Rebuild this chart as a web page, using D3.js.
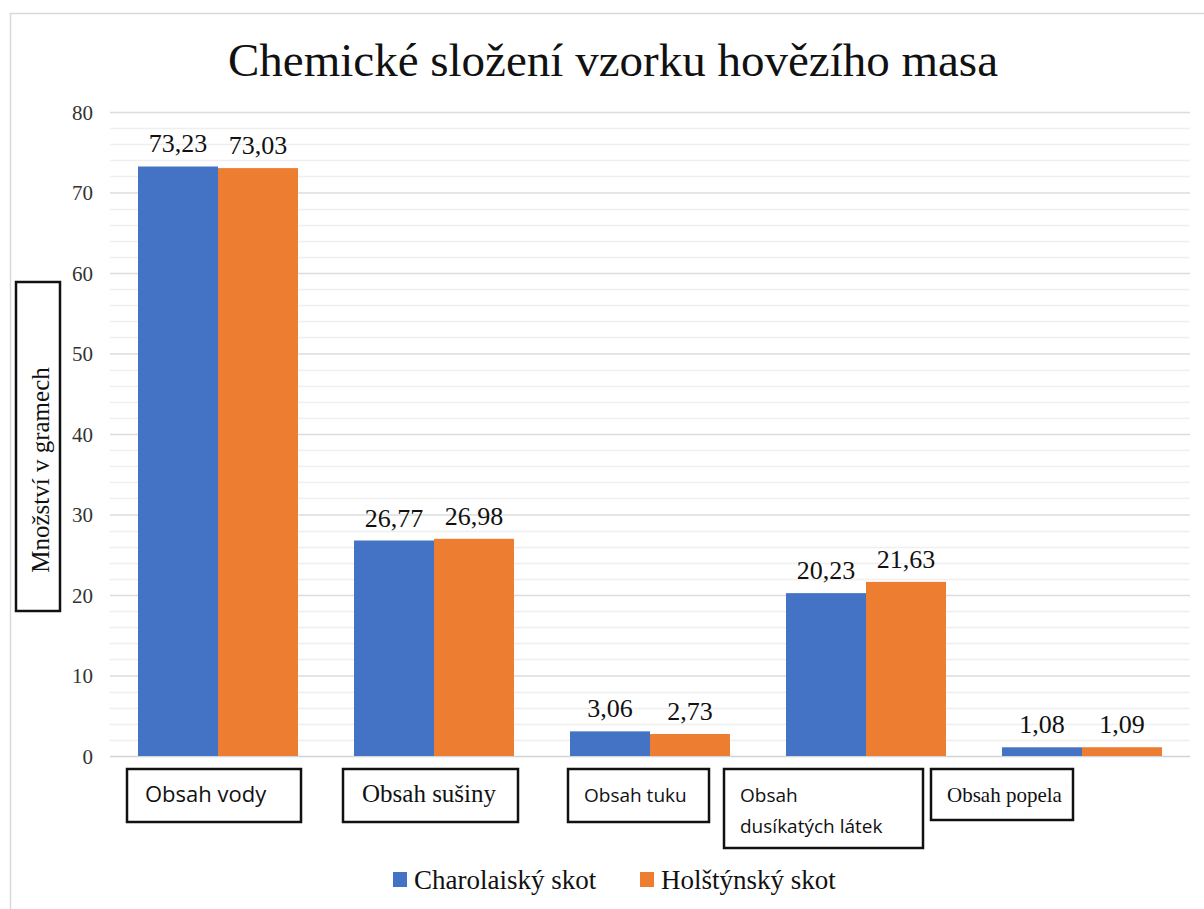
<!DOCTYPE html>
<html><head><meta charset="utf-8">
<script src="https://cdn.jsdelivr.net/npm/d3@7"></script>
<style>body{margin:0;background:#fff}</style>
</head><body>
<svg id="c" width="1204" height="909"></svg>
<script>
const title = "Chemické složení vzorku hovězího masa";
const categories = ["Obsah vody","Obsah sušiny","Obsah tuku","Obsah dusíkatých látek","Obsah popela"];
const categoryLines = [["Obsah vody"],["Obsah sušiny"],["Obsah tuku"],["Obsah","dusíkatých látek"],["Obsah popela"]];
const seriesNames = ["Charolaiský skot","Holštýnský skot"];
const charolais = [73.23, 26.77, 3.06, 20.23, 1.08];
const holstein = [73.03, 26.98, 2.73, 21.63, 1.09];
const labelsCh = ["73,23","26,77","3,06","20,23","1,08"];
const labelsHo = ["73,03","26,98","2,73","21,63","1,09"];
const yTicks = [0,10,20,30,40,50,60,70,80];
const yLabel = "Množství v gramech";
const colors = ["#4472C4","#ED7D31"];

const svg = d3.select("#c");
const serif = "'Liberation Serif','Times New Roman',serif";
const sans = "'Open Sans','DejaVu Sans',sans-serif";

// chart border
svg.append("rect").attr("x",10.5).attr("y",13.5).attr("width",1210).attr("height",920)
  .attr("fill","none").attr("stroke","#d9d9d9").attr("stroke-width",1.5);

const L=110,R=1190,T=112,B=756;
const x = d3.scaleBand().domain(categories).range([L,R]).paddingInner(56/216).paddingOuter(28/216);
const xs = d3.scaleBand().domain([0,1]).range([0,x.bandwidth()]);
const y = d3.scaleLinear().domain([0,80]).range([B,T]);

// minor gridlines
const minor = d3.range(0,81,2).filter(v=>v%10!==0);
svg.append("g").selectAll("line").data(minor).join("line")
  .attr("x1",L).attr("x2",R).attr("y1",d=>Math.round(y(d))+0.5).attr("y2",d=>Math.round(y(d))+0.5)
  .attr("stroke","#efefef").attr("stroke-width",1.5);
// major gridlines via axis
const yAxis = d3.axisLeft(y).tickValues(yTicks).tickSize(-(R-L)).tickFormat(d=>d);
const ga = svg.append("g").attr("transform",`translate(${L},0)`).call(yAxis);
ga.select(".domain").remove();
ga.attr("font-size",null).attr("font-family",null);
ga.selectAll(".tick line").attr("stroke",d=>d===0?"#d4d4d4":"#dcdcdc").attr("stroke-width",1.5);
ga.selectAll(".tick text").attr("x",-17).attr("dy","0.35em")
  .style("font-family",serif).style("font-size","21px").attr("fill","#333");

// bars
const data = categories.map((c,i)=>({c,v:[charolais[i],holstein[i]],l:[labelsCh[i],labelsHo[i]]}));
const g = svg.append("g").selectAll("g").data(data).join("g").attr("transform",d=>`translate(${x(d.c)},0)`);
g.selectAll("rect").data(d=>d.v.map((v,j)=>({v,j}))).join("rect")
  .attr("x",d=>xs(d.j)).attr("width",xs.bandwidth())
  .attr("y",d=>y(d.v)).attr("height",d=>B-y(d.v)).attr("fill",d=>colors[d.j]);
g.selectAll("text").data(d=>d.v.map((v,j)=>({v,j,l:d.l[j]}))).join("text")
  .attr("x",d=>xs(d.j)+xs.bandwidth()/2).attr("y",d=>y(d.v)-14)
  .attr("text-anchor","middle").style("font-family",serif).style("font-size","26px").attr("fill","#111")
  .text(d=>d.l);

// category label boxes
const boxW=[174,175,141,199,142];
const boxH=[53,53,53,79,51];
const boxOff=[-91,-91,-82,-142,-151];
const boxFont=[sans,serif,sans,sans,serif];
const boxSize=[22,25,19,19,21];
const boxPad=[18,19,16,16,16];
const cg = svg.append("g").selectAll("g").data(categories).join("g");
cg.append("rect").attr("x",(d,i)=>x(d)+x.bandwidth()/2+boxOff[i]).attr("y",769)
  .attr("width",(d,i)=>boxW[i]).attr("height",(d,i)=>boxH[i])
  .attr("fill","#fff").attr("stroke","#111").attr("stroke-width",2.5);
cg.each(function(d,i){
  const lines = categoryLines[i];
  const t = d3.select(this).append("text").style("font-family",boxFont[i]).style("font-size",boxSize[i]+"px").attr("fill","#111");
  lines.forEach((ln,k)=>{
    t.append("tspan").attr("x",x(d)+x.bandwidth()/2+boxOff[i]+boxPad[i])
     .attr("y",802+k*31).attr("text-anchor","start").text(ln);
  });
});

// y label box
svg.append("rect").attr("x",16).attr("y",282).attr("width",44).attr("height",329)
  .attr("fill","#fff").attr("stroke","#111").attr("stroke-width",2.5);
svg.append("text").attr("transform","translate(49,470) rotate(-90)").attr("text-anchor","middle")
  .style("font-family",serif).style("font-size","25px").attr("fill","#111").text(yLabel);

// title
svg.append("text").attr("x",613).attr("y",76).attr("text-anchor","middle")
  .style("font-family",serif).style("font-size","47px").attr("fill","#111").text(title);

// legend
const legX=[393,640];
const lg = svg.append("g").selectAll("g").data(seriesNames).join("g");
lg.append("rect").attr("x",(d,i)=>legX[i]).attr("y",872).attr("width",14).attr("height",15).attr("fill",(d,i)=>colors[i]);
lg.append("text").attr("x",(d,i)=>legX[i]+21).attr("y",889).style("font-family",serif).style("font-size","27px")
  .attr("fill","#111").text(d=>d);
</script>
</body></html>
